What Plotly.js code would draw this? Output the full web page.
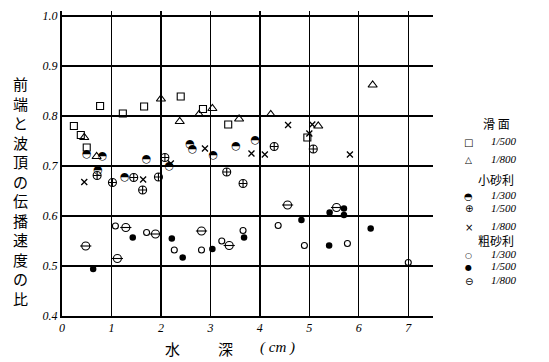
<!DOCTYPE html>
<html><head><meta charset="utf-8">
<script src="https://cdn.plot.ly/plotly-3.0.1.min.js"></script>
<style>html,body{margin:0;padding:0;background:#fff}#chart{width:549px;height:362px}</style>
</head><body><div id="chart"></div>
<script>
// ---- tick labels ----
const xTickVals = [0, 1, 2, 3, 4, 5, 6, 7];
const xTickText = ['0', '1', '2', '3', '4', '5', '6', '7'];
const yTickVals = [0.4, 0.5, 0.6, 0.7, 0.8, 0.9, 1.0];
const yTickText = ['0.4', '0.5', '0.6', '0.7', '0.8', '0.9', '1.0'];

// ---- 滑面 (smooth surface) ----
const smooth500X = [0.24, 0.38, 0.50, 0.77, 1.23, 1.66, 2.40, 2.85, 3.36, 4.96];
const smooth500Y = [0.780, 0.762, 0.737, 0.820, 0.805, 0.819, 0.839, 0.814, 0.783, 0.757];
const smooth800X = [0.45, 0.70, 2.00, 2.38, 2.77, 3.04, 3.58, 4.22, 5.18, 6.28];
const smooth800Y = [0.757, 0.719, 0.834, 0.789, 0.803, 0.815, 0.794, 0.803, 0.780, 0.862];

// ---- 小砂利 (small gravel) ----
const small300X = [0.50, 0.82, 0.73, 1.27, 1.71, 2.17, 2.59, 2.64, 3.06, 3.52, 3.91];
const small300Y = [0.723, 0.719, 0.692, 0.677, 0.713, 0.700, 0.743, 0.734, 0.721, 0.739, 0.751];
const small500X = [0.71, 1.02, 1.45, 1.63, 1.95, 2.08, 3.33, 3.66, 4.29, 5.08];
const small500Y = [0.681, 0.667, 0.677, 0.652, 0.678, 0.717, 0.688, 0.665, 0.739, 0.734];
const small800X = [0.45, 1.64, 2.20, 2.89, 3.83, 4.10, 4.57, 5.00, 5.06, 5.82];
const small800Y = [0.668, 0.673, 0.705, 0.735, 0.725, 0.723, 0.782, 0.765, 0.783, 0.723];

// ---- 粗砂利 (coarse gravel) ----
const coarse300X = [1.08, 1.71, 2.27, 2.82, 3.23, 3.66, 4.37, 4.90, 5.77, 7.00];
const coarse300Y = [0.580, 0.567, 0.532, 0.532, 0.550, 0.571, 0.581, 0.541, 0.545, 0.507];
const coarse500X = [0.63, 1.43, 2.22, 2.44, 3.04, 3.68, 4.84, 5.41, 5.40, 5.70, 5.70, 6.24];
const coarse500Y = [0.494, 0.557, 0.555, 0.517, 0.534, 0.557, 0.592, 0.607, 0.541, 0.615, 0.602, 0.575];
const coarse800X = [0.48, 1.12, 1.29, 1.89, 2.82, 3.38, 4.56, 5.55];
const coarse800Y = [0.540, 0.515, 0.577, 0.564, 0.570, 0.541, 0.622, 0.617];

// ---- text ----
const yTitle = '前端と波頂の伝播速度の比';
const groupTitles = ['滑 面', '小砂利', '粗砂利'];
const ratioLabels = ['1/500', '1/800', '1/300', '1/500', '1/800', '1/300', '1/500', '1/800'];
const legendGlyphs = ['□', '△', '◓', '⊕', '×', '○', '●', '⊖'];

// ---- layout helpers (pixel -> paper) ----
const L = 62, T = 11, W = 371, H = 305;
const px = v => (v - L) / W;
const py = v => (T + H - v) / H;

const blk = '#000';
const base = {type: 'scatter', mode: 'markers', showlegend: false, hoverinfo: 'skip', cliponaxis: false};
const traces = [
  Object.assign({}, base, {x: smooth500X, y: smooth500Y, marker: {symbol: 'square-open', size: 7, color: blk, line: {width: 1.1, color: blk}}}),
  Object.assign({}, base, {x: smooth800X, y: smooth800Y, marker: {symbol: 'triangle-up-open', size: 8, color: blk, line: {width: 1.1, color: blk}}}),
  Object.assign({}, base, {x: small300X, y: small300Y, mode: 'text', text: small300X.map(() => '◓'), textposition: 'middle center', textfont: {family: 'DejaVu Sans', size: 11, color: blk}}),
  Object.assign({}, base, {x: small500X, y: small500Y, marker: {symbol: 'circle-cross-open', size: 8, color: blk, line: {width: 1.1, color: blk}}}),
  Object.assign({}, base, {x: small800X, y: small800Y, marker: {symbol: 'x-thin-open', size: 6, color: blk, line: {width: 1.3, color: blk}}}),
  Object.assign({}, base, {x: coarse300X, y: coarse300Y, marker: {symbol: 'circle-open', size: 6, color: blk, line: {width: 1.1, color: blk}}}),
  Object.assign({}, base, {x: coarse500X, y: coarse500Y, marker: {symbol: 'circle', size: 6.5, color: blk, line: {width: 0}}}),
  Object.assign({}, base, {x: coarse800X, y: coarse800Y, marker: {symbol: 'circle-open', size: 8, color: blk, line: {width: 1.1, color: blk}}}),
  Object.assign({}, base, {x: coarse800X, y: coarse800Y, marker: {symbol: 'line-ew-open', size: 8, color: blk, line: {width: 1.1, color: blk}}})
];

const jp = 'Noto Sans CJK JP';
const ann = [];
ann.push({xref: 'paper', yref: 'paper', x: px(20), y: py(191), xanchor: 'center', yanchor: 'middle', showarrow: false,
  text: yTitle.split('').join('<br>'), font: {family: jp, size: 15, color: blk}});
ann.push({xref: 'paper', yref: 'paper', x: px(172), y: py(348), xanchor: 'center', yanchor: 'middle', showarrow: false, text: '水', font: {family: jp, size: 15, color: blk}});
ann.push({xref: 'paper', yref: 'paper', x: px(225), y: py(348), xanchor: 'center', yanchor: 'middle', showarrow: false, text: '深', font: {family: jp, size: 15, color: blk}});
ann.push({xref: 'paper', yref: 'paper', x: px(277), y: py(347), xanchor: 'center', yanchor: 'middle', showarrow: false, text: '( cm )', font: {family: 'Liberation Serif', style: 'italic', size: 15, color: blk}});

const headerY = [123, 179, 240];
groupTitles.forEach((t, i) => ann.push({xref: 'paper', yref: 'paper', x: px(496), y: py(headerY[i]), xanchor: 'center', yanchor: 'middle', showarrow: false, text: t, font: {family: jp, size: 12, color: blk}}));
const rowY = [142, 160, 196, 209, 227, 255, 267, 281];
const glyphSize = [10, 9, 10, 10, 10, 8, 8, 10];
ratioLabels.forEach((t, i) => {
  ann.push({xref: 'paper', yref: 'paper', x: px(469), y: py(rowY[i]), xanchor: 'center', yanchor: 'middle', showarrow: false, text: legendGlyphs[i], font: {family: 'DejaVu Sans', size: glyphSize[i], color: blk}});
  ann.push({xref: 'paper', yref: 'paper', x: px(504), y: py(rowY[i] - 1), xanchor: 'center', yanchor: 'middle', showarrow: false, text: t, font: {family: 'Liberation Serif', style: 'italic', size: 11, color: blk}});
});

const layout = {
  width: 549, height: 362,
  margin: {l: L, r: 549 - L - W, t: T, b: 362 - T - H, pad: 0},
  paper_bgcolor: '#fff', plot_bgcolor: '#fff',
  showlegend: false,
  xaxis: {range: [0, 7.5], tickvals: xTickVals, ticktext: xTickText, showgrid: true, gridcolor: blk, gridwidth: 1.3,
    showline: true, linecolor: blk, linewidth: 2, zeroline: false, ticks: '',
    tickfont: {family: 'Liberation Serif', style: 'italic', size: 12, color: blk}},
  yaxis: {range: [0.4, 1.01], tickvals: yTickVals, ticktext: yTickText, showgrid: true, gridcolor: blk, gridwidth: 1.3,
    showline: true, linecolor: blk, linewidth: 2, zeroline: false, ticks: '',
    tickfont: {family: 'Liberation Serif', style: 'italic', size: 12, color: blk}},
  annotations: ann
};
Plotly.newPlot('chart', traces, layout, {staticPlot: true, displayModeBar: false});
</script>
</body></html>
